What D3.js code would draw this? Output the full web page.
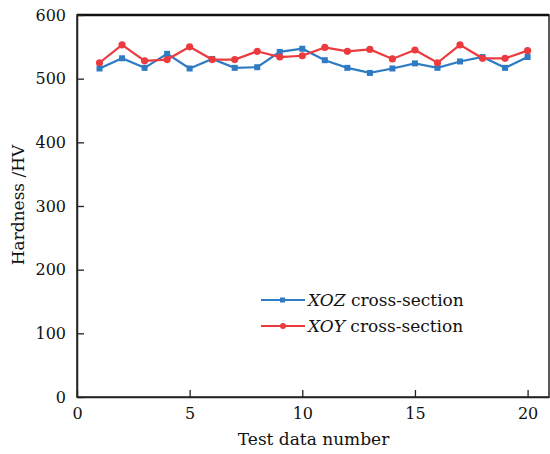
<!DOCTYPE html>
<html lang="en">
<head>
    <meta charset="UTF-8">
    <title>Hardness</title>
    <script type="text/javascript" src="https://cdnjs.cloudflare.com/ajax/libs/d3/7.8.5/d3.min.js"></script>
    <style>
        body { margin: 0; background: white; }
        text { font-family: "DejaVu Serif", serif; fill: #111; }
    </style>
</head>
<body>
<svg id="chart" width="550" height="454"></svg>

<script type="text/javascript">
    const testNumber = d3.range(1, 21);
    const xozHardness = [516, 532, 517, 539, 516, 531, 517, 518, 542, 547, 529, 517, 509, 516, 524, 517, 527, 534, 517, 534];
    const xoyHardness = [525, 553, 528, 530, 550, 530, 530, 543, 534, 536, 549, 543, 546, 531, 545, 525, 553, 532, 532, 544];
    const xTicks = [0, 5, 10, 15, 20];
    const yTicks = [0, 100, 200, 300, 400, 500, 600];

    const series = [
        { name: "XOZ", values: xozHardness, color: "#2e7bc4", marker: "square" },
        { name: "XOY", values: xoyHardness, color: "#ec3b3f", marker: "circle" }
    ];

    const margin = { top: 15, right: 1, bottom: 57, left: 77 };
    const width = 550 - margin.left - margin.right;
    const height = 454 - margin.top - margin.bottom;

    const svg = d3.select("#chart");
    const g = svg.append("g")
        .attr("transform", "translate(" + margin.left + "," + margin.top + ")");

    const x = d3.scaleLinear().domain([0, 20.95]).range([0, width]);
    const y = d3.scaleLinear().domain([0, 600]).range([height, 0]);

    // frame
    g.append("rect")
        .attr("width", width)
        .attr("height", height)
        .attr("fill", "none")
        .attr("stroke", "#222")
        .attr("stroke-width", 1.5);
    g.append("line")
        .attr("x1", 0).attr("x2", width)
        .attr("y1", 0).attr("y2", 0)
        .attr("stroke", "#111")
        .attr("stroke-width", 2.5);

    const xAxis = g.append("g")
        .attr("transform", "translate(0," + height + ")")
        .call(d3.axisBottom(x).tickValues(xTicks).tickSizeInner(-7).tickSizeOuter(0).tickPadding(11));
    const yAxis = g.append("g")
        .call(d3.axisLeft(y).tickValues(yTicks).tickSizeInner(-7).tickSizeOuter(0).tickPadding(11));

    [xAxis, yAxis].forEach(function(a) {
        a.select(".domain").attr("stroke", "#222").attr("stroke-width", 1.5);
        a.selectAll(".tick line").attr("stroke", "#222").attr("stroke-width", 1.3);
        a.selectAll(".tick text")
            .attr("fill", "#111")
            .style("font-family", "DejaVu Serif, serif")
            .style("font-size", "16px");
    });

    const line = d3.line()
        .x(function(d, i) { return x(testNumber[i]); })
        .y(function(d) { return y(d); });

    series.forEach(function(s) {
        g.append("path")
            .datum(s.values)
            .attr("fill", "none")
            .attr("stroke", s.color)
            .attr("stroke-width", 2.2)
            .attr("d", line);

        if (s.marker === "square") {
            g.selectAll(".pt-" + s.name)
                .data(s.values)
                .enter().append("rect")
                .attr("x", function(d, i) { return x(testNumber[i]) - 3; })
                .attr("y", function(d) { return y(d) - 3; })
                .attr("width", 6)
                .attr("height", 6)
                .attr("fill", s.color);
        } else {
            g.selectAll(".pt-" + s.name)
                .data(s.values)
                .enter().append("circle")
                .attr("cx", function(d, i) { return x(testNumber[i]); })
                .attr("cy", function(d) { return y(d); })
                .attr("r", 3.6)
                .attr("fill", s.color);
        }
    });

    // legend
    const legend = svg.append("g").attr("transform", "translate(261,300)");
    series.forEach(function(s, i) {
        const row = legend.append("g").attr("transform", "translate(0," + (i * 26) + ")");
        row.append("line")
            .attr("x1", 0).attr("x2", 44)
            .attr("stroke", s.color)
            .attr("stroke-width", 2.2);
        if (s.marker === "square") {
            row.append("rect").attr("x", 19).attr("y", -2.5).attr("width", 5).attr("height", 5).attr("fill", s.color);
        } else {
            row.append("circle").attr("cx", 22).attr("r", 3).attr("fill", s.color);
        }
        const t = row.append("text")
            .attr("x", 47)
            .attr("dy", "0.35em")
            .style("font-size", "17px");
        t.append("tspan").style("font-style", "italic").text(s.name);
        t.append("tspan").text(" cross-section");
    });

    // axis titles
    svg.append("text")
        .attr("x", margin.left + x(10.5))
        .attr("y", 445)
        .attr("text-anchor", "middle")
        .style("font-size", "17px")
        .text("Test data number");

    svg.append("text")
        .attr("transform", "translate(24," + (margin.top + 190) + ") rotate(-90)")
        .attr("text-anchor", "middle")
        .style("font-size", "17px")
        .text("Hardness /HV");
</script>
</body>
</html>
